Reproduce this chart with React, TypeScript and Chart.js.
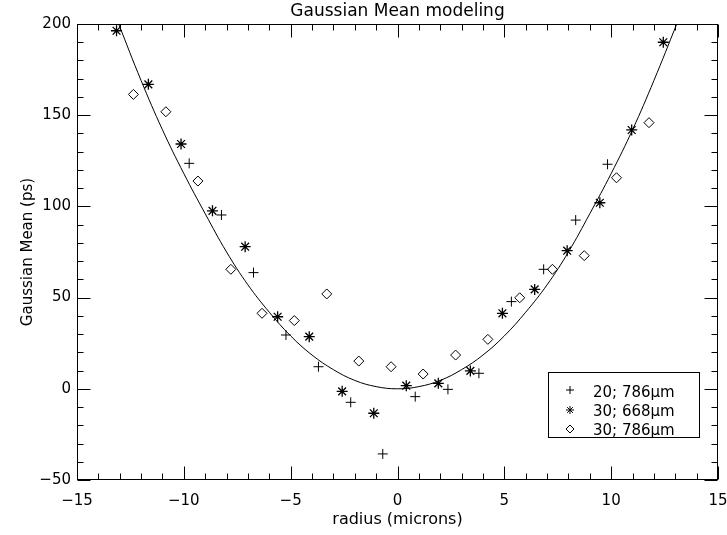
import React, { useEffect, useRef } from 'react';
import { Chart, registerables } from 'chart.js';

Chart.register(...registerables);

// ---- data ----
const plusX = [-9.75, -8.24, -6.74, -5.22, -3.70, -2.19, -0.69, 0.83, 2.36, 3.81, 5.33, 6.84, 8.34, 9.83];
const plusY = [123.6, 95.3, 63.7, 29.5, 12.1, -7.4, -35.7, -4.3, -0.3, 8.5, 47.8, 65.5, 92.5, 123.1];

const starX = [-13.15, -11.66, -10.13, -8.66, -7.13, -5.61, -4.13, -2.59, -1.11, 0.41, 1.91, 3.41, 4.91, 6.42, 7.94, 9.47, 10.96, 12.44];
const starY = [196.3, 166.9, 134.2, 97.6, 77.9, 39.5, 28.6, -1.4, -13.4, 1.7, 3.0, 9.8, 41.4, 54.5, 75.7, 102.0, 141.9, 190.0];

const diamX = [-12.36, -10.84, -9.34, -7.8, -6.34, -4.83, -3.31, -1.81, -0.30, 1.20, 2.72, 4.23, 5.72, 7.25, 8.74, 10.25, 11.77];
const diamY = [161.4, 151.9, 113.9, 65.5, 41.4, 37.4, 52.0, 15.2, 12.1, 8.1, 18.5, 27.1, 49.9, 65.5, 73.0, 115.7, 145.9];

const curveX = [-13.05, -12, -11, -10, -9, -8, -7, -6, -5, -4, -3, -2, -1, 0, 1, 2, 3, 4, 5, 6, 7, 8, 9, 10, 11, 12, 13.07];
const curveY = [200, 169, 142, 118, 96, 75, 57, 42, 29, 18.5, 10.5, 4.6, 1.2, 0, 1.2, 4.6, 10.5, 18.5, 29, 42, 57, 75, 96, 118, 142, 169, 200];

const legendLabels = ['20; 786\u03BCm', '30; 668\u03BCm', '30; 786\u03BCm'];
const titleText = 'Gaussian Mean modeling';
const xTitle = 'radius (microns)';
const yTitle = 'Gaussian Mean (ps)';
const xRange = [-15, 15];
const yRange = [-50, 200];
const xMajorStep = 5;
const xMinorStep = 1;
const yMajorStep = 50;
const yMinorStep = 10;

const FONT = '"DejaVu Sans", sans-serif';

const zip = (xs: number[], ys: number[]) => xs.map((x, i) => ({ x, y: ys[i] }));

const drawSym = (ctx: CanvasRenderingContext2D, kind: string, cx: number, cy: number, r: number) => {
  ctx.beginPath();
  if (kind === 'cross' || kind === 'star') {
    ctx.moveTo(cx - r, cy); ctx.lineTo(cx + r, cy);
    ctx.moveTo(cx, cy - r); ctx.lineTo(cx, cy + r);
  }
  if (kind === 'star') {
    const d = r * Math.SQRT1_2;
    ctx.moveTo(cx - d, cy - d); ctx.lineTo(cx + d, cy + d);
    ctx.moveTo(cx - d, cy + d); ctx.lineTo(cx + d, cy - d);
  }
  if (kind === 'rectRot') {
    ctx.moveTo(cx, cy - r); ctx.lineTo(cx + r, cy); ctx.lineTo(cx, cy + r); ctx.lineTo(cx - r, cy); ctx.closePath();
  }
  ctx.stroke();
};

const decorPlugin = {
  id: 'decor',
  afterDraw(chart: any) {
    const { ctx, chartArea: a } = chart;
    const xs = chart.scales.x;
    const ys = chart.scales.y;
    ctx.save();
    ctx.strokeStyle = '#000';
    ctx.lineWidth = 1;
    const L = Math.round(a.left) + 0.5;
    const R = Math.round(a.right) - 0.5;
    const T = Math.round(a.top) + 0.5;
    const B = Math.round(a.bottom) - 0.5;
    ctx.strokeRect(L, T, R - L, B - T);
    ctx.beginPath();
    for (let v = xRange[0]; v <= xRange[1] + 1e-9; v += xMinorStep) {
      const p = Math.round(xs.getPixelForValue(v)) + 0.5;
      const len = Math.abs(v % xMajorStep) < 1e-9 ? 13 : 6;
      ctx.moveTo(p, B); ctx.lineTo(p, B - len);
      ctx.moveTo(p, T); ctx.lineTo(p, T + len);
    }
    for (let v = yRange[0]; v <= yRange[1] + 1e-9; v += yMinorStep) {
      const p = Math.round(ys.getPixelForValue(v)) + 0.5;
      const len = Math.abs(v % yMajorStep) < 1e-9 ? 13 : 6;
      ctx.moveTo(L, p); ctx.lineTo(L + len, p);
      ctx.moveTo(R, p); ctx.lineTo(R - len, p);
    }
    ctx.stroke();

    // title centred over plot area
    ctx.fillStyle = '#000';
    ctx.font = `17px ${FONT}`;
    ctx.textAlign = 'center';
    ctx.textBaseline = 'alphabetic';
    ctx.fillText(titleText, (a.left + a.right) / 2, 16);

    // legend
    ctx.strokeRect(548.5, 372.5, 151, 65);
    const kinds = ['cross', 'star', 'rectRot'];
    const symY = [390, 410, 429];
    const txtY = [397, 416, 435];
    ctx.font = `15px ${FONT}`;
    ctx.textAlign = 'left';
    kinds.forEach((k, i) => {
      drawSym(ctx, k, 570, symY[i], 4);
      ctx.fillText(legendLabels[i], 593, txtY[i]);
    });
    ctx.restore();
  },
};

export default function App() {
  const ref = useRef<HTMLCanvasElement>(null);
  useEffect(() => {
    document.body.style.margin = '0';
    Chart.defaults.color = '#000';
    const chart = new Chart(ref.current as HTMLCanvasElement, {
      type: 'scatter',
      data: {
        datasets: [
          {
            label: 'fit',
            data: zip(curveX, curveY),
            showLine: true,
            borderColor: '#000',
            borderWidth: 1,
            pointRadius: 0,
            tension: 0.4,
            fill: false,
          },
          {
            label: legendLabels[0],
            data: zip(plusX, plusY),
            pointStyle: 'cross',
            pointRadius: 5,
            borderColor: '#000',
            borderWidth: 1,
            backgroundColor: 'transparent',
          },
          {
            label: legendLabels[1],
            data: zip(starX, starY),
            pointStyle: 'star',
            pointRadius: 5.5,
            borderColor: '#000',
            borderWidth: 1.3,
            backgroundColor: 'transparent',
          },
          {
            label: legendLabels[2],
            data: zip(diamX, diamY),
            pointStyle: 'rectRot',
            pointRadius: 5,
            borderColor: '#000',
            borderWidth: 1,
            backgroundColor: 'transparent',
          },
        ],
      },
      options: {
        animation: false,
        responsive: false,
        events: [],
        layout: { padding: { left: 0, right: 9, top: 24, bottom: 0 } },
        plugins: { legend: { display: false }, tooltip: { enabled: false }, title: { display: false } },
        scales: {
          x: {
            type: 'linear',
            min: xRange[0],
            max: xRange[1],
            afterFit: (s: any) => { s.height = 55; s.paddingLeft = 0; s.paddingRight = 0; },
            grid: { display: false, drawTicks: false },
            border: { display: false },
            ticks: {
              stepSize: xMajorStep,
              padding: 12,
              font: { family: FONT, size: 15 },
              color: '#000',
              maxRotation: 0,
              callback: (v: any) => String(v).replace('-', '\u2212'),
            },
            title: {
              display: true,
              text: xTitle,
              font: { family: FONT, size: 16 },
              color: '#000',
              padding: { top: 0, bottom: 6 },
            },
          },
          y: {
            type: 'linear',
            min: yRange[0],
            max: yRange[1],
            afterFit: (s: any) => { s.width = 77; s.paddingTop = 0; s.paddingBottom = 0; },
            grid: { display: false, drawTicks: false },
            border: { display: false },
            ticks: {
              stepSize: yMajorStep,
              padding: 6,
              font: { family: FONT, size: 15 },
              color: '#000',
              callback: (v: any) => String(v).replace('-', '\u2212'),
            },
            title: {
              display: true,
              text: yTitle,
              font: { family: FONT, size: 15 },
              color: '#000',
              padding: { top: 19, bottom: 0 },
            },
          },
        },
      },
      plugins: [decorPlugin],
    } as any);
    return () => chart.destroy();
  }, []);
  return <canvas ref={ref} width={727} height={535} style={{ display: 'block', width: 727, height: 535 }} />;
}
